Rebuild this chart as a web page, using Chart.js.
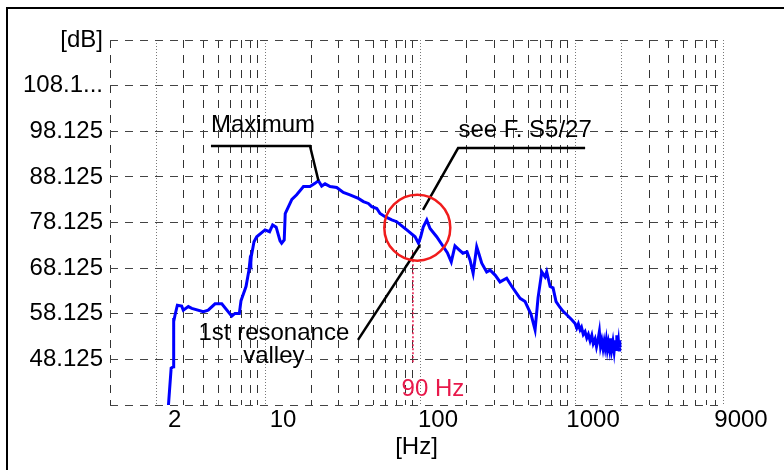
<!DOCTYPE html>
<html lang="en">
<head>
<meta charset="UTF-8" />
<title>Frequenzgang</title>
<script src="https://cdn.jsdelivr.net/npm/chart.js"></script>
<style>
    html, body {
        margin: 0;
        padding: 0;
        background: #fff;
        overflow: hidden;
    }
    .frame {
        position: absolute;
        left: 6px;
        top: 7px;
        width: 820px;
        height: 520px;
        border: 2px solid #000;
    }
    .chart-box {
        position: absolute;
        left: 0;
        top: 0;
        width: 784px;
        height: 470px;
    }
</style>
</head>
<body>
<div class="frame"></div>
<div class="chart-box"><canvas id="responseChart" width="784" height="470"></canvas></div>

<script>
    // measured level over frequency
    const freqHz = [2.37, 2.48, 2.56, 2.58, 2.57, 2.63, 2.72, 2.90, 2.97, 3.20, 3.37, 4.0, 4.3, 4.76, 5.26,
        6.1, 6.4, 6.83, 7.0, 7.54, 7.88, 8.0, 8.1, 8.15, 8.49, 8.84, 10.0, 10.7, 11.2, 11.8, 12.5, 12.8,
        13.3, 13.5, 14.9, 16.0, 17.7, 19.5, 21.0, 22.1, 23.2, 24.4, 26.3, 29.0, 32.0, 35.3, 40.0, 43.1,
        46.4, 48.8, 52.6, 55.2, 59.5, 65.7, 70.7, 76.2, 82.1, 92.9, 97.7, 101, 105, 110.5, 116, 128, 139,
        150, 159, 168, 178, 189, 201, 210, 220, 232, 241, 250, 269, 283, 305, 328, 362, 391, 442, 476,
        497, 520, 552, 577, 610, 640, 656, 690, 721, 754, 800, 841, 884, 952,
        1000, 1025, 1050, 1077, 1100, 1130, 1160, 1190, 1218, 1250, 1282, 1310, 1346, 1375, 1405, 1435,
        1460, 1487, 1515, 1540, 1563, 1590, 1615, 1641, 1670, 1700, 1725, 1755, 1786, 1815, 1840, 1859,
        1880, 1905, 1923, 1940, 1950];
    const levelDb = [37.0, 46.2, 46.5, 57.2, 56.4, 57.9, 60.0, 59.8, 58.9, 59.7, 59.3, 58.6, 58.9, 60.3, 60.3,
        57.6, 58.2, 58.2, 61.0, 64.1, 67.7, 69.8, 69.3, 70.6, 73.9, 75.0, 76.5, 76.1, 77.6, 77.1, 74.1, 73.6,
        74.3, 80.1, 83.2, 84.2, 86.0, 86.0, 86.7, 87.3, 86.1, 86.6, 86.0, 85.8, 84.7, 84.2, 83.4, 82.7,
        82.3, 81.6, 81.2, 80.1, 79.4, 78.7, 78.3, 77.4, 76.5, 75.0, 73.6, 75.0, 77.2, 78.7, 76.8, 75.0, 73.2,
        71.5, 69.5, 73.0, 72.2, 71.4, 71.7, 69.9, 67.0, 72.8, 71.0, 69.2, 67.3, 67.7, 66.6, 65.1, 65.9, 64.1, 61.5, 60.8,
        59.4, 58.0, 54.6, 61.6, 67.3, 66.2, 67.3, 64.1, 63.8, 60.8, 59.5, 58.6, 57.9, 56.8,
        56.0, 55.0, 55.9, 54.6, 55.2, 53.6, 54.2, 52.8, 53.6, 52.2, 53.4, 51.6, 52.6, 50.9, 52.3, 54.2,
        51.0, 52.3, 50.5, 52.0, 50.6, 52.4, 50.3, 51.8, 50.2, 52.7, 50.4, 52.0, 49.9, 52.3, 50.3, 53.4,
        50.5, 52.0, 50.2, 52.3, 50.8];

    // axes
    const xMin = 1;
    const xMax = 9000;
    const xTickValues = [2, 10, 100, 1000, 9000];
    const xTickLabels = ['2', '10', '100', '1000', '9000'];
    const xDotted = [2, 10, 100, 1000, 2000, 9000];
    const yTickValues = [38.125, 48.125, 58.125, 68.125, 78.125, 88.125, 98.125, 108.125, 118.125];
    const yTickLabels = ['', '48.125', '58.125', '68.125', '78.125', '88.125', '98.125', '108.1...', '[dB]'];

    // callouts
    const maxLeaderX = [4.48, 19.5, 22.1];
    const maxLeaderY = [94.9, 94.9, 87.3];
    const refLeaderX = [1161, 176, 104.5];
    const refLeaderY = [94.45, 94.45, 80.9];
    const valleyLeaderX = [39.8, 100];
    const valleyLeaderY = [52.4, 73.2];
    const markerHz = 90;
    const markerY = [47.5, 71.7];
    const circleAt = { x: 96, y: 77 };

    const noteTexts = ['Maximum', 'see F. S5/27', '1st resonance', 'valley', '90 Hz'];
    const noteX = [9.7, 476, 11.4, 11.4, 121];
    const noteY = [97.96, 96.87, 52.4, 47.33, 40.1];
    const noteColors = ['#000', '#000', '#000', '#000', '#e8194b'];

    // log grid: every 1..9 step of each decade
    const xGridValues = [];
    for (const decade of [1, 10, 100, 1000]) {
        for (let k = 1; k <= 9; k++) xGridValues.push(k * decade);
    }

    const toPoints = (xs, ys) => xs.map((v, i) => ({ x: v, y: ys[i] }));

    const FONT = 'Arial, "Liberation Sans", sans-serif';
    Chart.defaults.font.family = FONT;
    Chart.defaults.font.size = 24;
    Chart.defaults.color = '#000';

    const notesPlugin = {
        id: 'notes',
        afterDatasetsDraw(chart) {
            const { ctx, scales: { x, y } } = chart;
            ctx.save();
            ctx.font = '24px ' + FONT;
            ctx.textAlign = 'center';
            ctx.textBaseline = 'alphabetic';
            noteTexts.forEach((t, i) => {
                ctx.fillStyle = noteColors[i];
                ctx.fillText(t, x.getPixelForValue(noteX[i]), y.getPixelForValue(noteY[i]));
            });
            ctx.restore();
        }
    };

    const leader = (xs, ys) => ({
        data: toPoints(xs, ys),
        borderColor: '#000',
        borderWidth: 2.5,
        pointRadius: 0,
        tension: 0
    });

    new Chart(document.getElementById('responseChart'), {
        type: 'line',
        data: {
            datasets: [
                {
                    type: 'scatter',
                    data: [circleAt],
                    pointRadius: 33,
                    pointStyle: 'circle',
                    borderColor: '#f01c1c',
                    borderWidth: 2.5,
                    backgroundColor: 'rgba(0,0,0,0)'
                },
                leader(maxLeaderX, maxLeaderY),
                leader(refLeaderX, refLeaderY),
                leader(valleyLeaderX, valleyLeaderY),
                {
                    data: toPoints([markerHz, markerHz], markerY),
                    borderColor: '#e8194b',
                    borderWidth: 1.5,
                    borderDash: [2, 2],
                    pointRadius: 0
                },
                {
                    data: toPoints(freqHz, levelDb),
                    borderColor: '#0000ff',
                    borderWidth: 3,
                    pointRadius: 0,
                    tension: 0
                }
            ]
        },
        options: {
            responsive: false,
            animation: false,
            layout: { padding: { top: 40, right: 61, left: 0, bottom: 0 } },
            plugins: {
                legend: { display: false },
                tooltip: { enabled: false }
            },
            scales: {
                x: {
                    type: 'logarithmic',
                    min: xMin,
                    max: xMax,
                    afterBuildTicks: s => { s.ticks = xGridValues.map(v => ({ value: v })); },
                    afterFit: s => { s.height = 65; },
                    ticks: {
                        autoSkip: false,
                        maxRotation: 0,
                        padding: 1,
                        labelOffset: 18,
                        callback: v => {
                            const i = xTickValues.indexOf(v);
                            return i >= 0 ? xTickLabels[i] : '';
                        }
                    },
                    grid: {
                        drawTicks: false,
                        lineWidth: 1,
                        color: c => (c.tick && xDotted.includes(c.tick.value)) ? '#777' : '#333'
                    },
                    border: {
                        display: false,
                        dash: c => (c.tick && xDotted.includes(c.tick.value)) ? [1, 2] : [8, 7]
                    },
                    title: {
                        display: true,
                        text: '[Hz]',
                        padding: { top: 0, bottom: 8 }
                    }
                },
                y: {
                    min: yTickValues[0],
                    max: yTickValues[yTickValues.length - 1],
                    afterBuildTicks: s => { s.ticks = yTickValues.map(v => ({ value: v })); },
                    afterFit: s => { s.width = 110; },
                    ticks: {
                        autoSkip: false,
                        padding: 7,
                        callback: (v, i) => yTickLabels[i]
                    },
                    grid: {
                        drawTicks: false,
                        lineWidth: 1,
                        color: '#444'
                    },
                    border: {
                        display: false,
                        dash: [8, 7]
                    }
                }
            }
        },
        plugins: [notesPlugin]
    });
</script>
</body>
</html>
